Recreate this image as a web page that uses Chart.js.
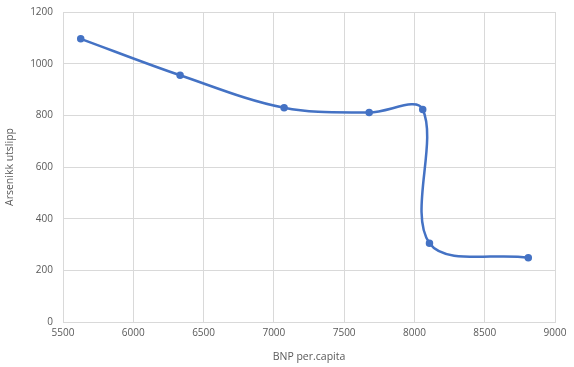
<!DOCTYPE html>
<html>
<head>
<meta charset="utf-8">
<script src="https://cdn.jsdelivr.net/npm/chart.js@4/dist/chart.umd.min.js"></script>
<style>
    html, body { margin: 0; padding: 0; background: #ffffff; }
    #wrap { width: 574px; height: 367px; position: relative; }
</style>
</head>
<body>
<div id="wrap"><canvas id="arsenChart"></canvas></div>
<script>
// BNP per capita (x) vs arsenic emission (y)
const bnpValues = [5626, 6333, 7073, 7678, 8059, 8107, 8810];
const arsenValues = [1096, 955, 829, 811, 823, 305, 249];
const xTicks = [5500, 6000, 6500, 7000, 7500, 8000, 8500, 9000];
const yTicks = [0, 200, 400, 600, 800, 1000, 1200];

const points = bnpValues.map((x, i) => ({ x: x, y: arsenValues[i] }));

const gridColor = '#d9d9d9';
const textColor = '#595959';
const fontFamily = '"Open Sans", "Liberation Sans", sans-serif';

const ctx = document.getElementById('arsenChart').getContext('2d');
new Chart(ctx, {
    type: 'scatter',
    data: {
        datasets: [{
            data: points,
            showLine: true,
            tension: 0.35,
            borderColor: '#4472c4',
            borderWidth: 2.5,
            backgroundColor: '#4472c4',
            pointRadius: 2.5,
            pointHoverRadius: 2.5
        }]
    },
    options: {
        responsive: true,
        maintainAspectRatio: false,
        animation: false,
        layout: { padding: { left: 0, right: 19, top: 12, bottom: 0 } },
        plugins: { legend: { display: false }, tooltip: { enabled: false } },
        scales: {
            x: {
                type: 'linear',
                min: xTicks[0],
                max: xTicks[xTicks.length - 1],
                afterBuildTicks: axis => { axis.ticks = xTicks.map(v => ({ value: v })); },
                afterFit: axis => { axis.height = 45; axis.paddingRight = 0; },
                grid: { color: gridColor, drawTicks: false },
                border: { color: gridColor },
                ticks: {
                    color: textColor, padding: 5,
                    font: { family: fontFamily, size: 10 },
                    callback: v => String(v)
                },
                title: {
                    display: true,
                    text: 'BNP per.capita',
                    color: textColor,
                    padding: { top: 8 },
                    font: { family: fontFamily, size: 10.5 }
                }
            },
            y: {
                min: yTicks[0],
                max: yTicks[yTicks.length - 1],
                afterBuildTicks: axis => { axis.ticks = yTicks.map(v => ({ value: v })); },
                afterFit: axis => { axis.width = 63; axis.paddingTop = 0; axis.paddingBottom = 0; },
                grid: { color: gridColor, drawTicks: false },
                border: { color: gridColor },
                ticks: {
                    color: textColor, padding: 10,
                    font: { family: fontFamily, size: 10 },
                    callback: v => String(v)
                },
                title: {
                    display: true,
                    text: 'Arsenikk utslipp',
                    color: textColor,
                    padding: { bottom: 4 },
                    font: { family: fontFamily, size: 10.5 }
                }
            }
        }
    }
});
</script>
</body>
</html>
